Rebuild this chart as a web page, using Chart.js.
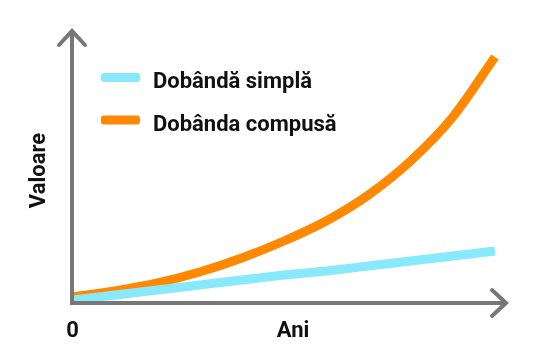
<!DOCTYPE html>
<html>
<head>
<meta charset="utf-8">
<script src="https://cdn.jsdelivr.net/npm/chart.js@4/dist/chart.umd.min.js"></script>
<style>
  html, body { margin: 0; padding: 0; background: #fff; }
  #wrap { width: 550px; height: 350px; }
</style>
</head>
<body>
<div id="wrap"><canvas id="c" width="550" height="350"></canvas></div>
<script>
// date
const ani = [0, 1, 2, 3, 4, 5, 6, 7, 8, 9, 10];
const dobandaSimpla = [3, 8, 13, 18, 23, 28, 32, 37, 42, 47, 52];
const dobandaCompusa = [6, 12, 20, 31, 45, 62, 82, 108, 142, 186, 246];
const etichete = ["Dobândă simplă", "Dobânda compusă"];
const culori = ["#87e9fb", "#ff8800"];

const GRI = "#777777";
const FONT = "bold 22px Roboto";

// axe cu sageti, legenda si titluri
const axePlugin = {
  id: "axe",
  afterDatasetsDraw(chart) {
    const ctx = chart.ctx;
    const x = chart.scales.x, y = chart.scales.y;
    const x0 = x.getPixelForValue(0) - 1;
    const y0 = y.getPixelForValue(0);
    const top = chart.chartArea.top - 2;
    const right = chart.chartArea.right + 11;

    ctx.save();
    ctx.strokeStyle = GRI;
    ctx.lineWidth = 4;
    ctx.lineCap = "butt";
    ctx.beginPath();
    ctx.moveTo(x0, top + 1);
    ctx.lineTo(x0, y0);
    ctx.lineTo(right - 1, y0);
    ctx.stroke();

    ctx.lineCap = "round";
    ctx.lineJoin = "miter";
    ctx.beginPath();
    ctx.moveTo(x0 - 13, top + 14);
    ctx.lineTo(x0, top);
    ctx.lineTo(x0 + 13, top + 14);
    ctx.moveTo(right - 14, y0 - 13);
    ctx.lineTo(right, y0);
    ctx.lineTo(right - 14, y0 + 13);
    ctx.stroke();

    // legenda
    ctx.font = FONT;
    ctx.textBaseline = "alphabetic";
    const randuri = [77.5, 120];
    const baze = [88, 130.5];
    etichete.forEach((t, i) => {
      ctx.fillStyle = culori[i];
      ctx.beginPath();
      ctx.roundRect(101, randuri[i] - 4.5, 39, 9, 3);
      ctx.fill();
      ctx.fillStyle = "#111";
      ctx.textAlign = "left";
      ctx.fillText(t, 153, baze[i]);
    });

    // titluri axe
    ctx.textAlign = "center";
    ctx.fillText("0", 72.5, 336.5);
    ctx.fillText("Ani", 293, 336.5);
    ctx.translate(44.5, 170.5);
    ctx.rotate(-Math.PI / 2);
    ctx.fillText("Valoare", 0, 0);
    ctx.restore();
  }
};

new Chart(document.getElementById("c").getContext("2d"), {
  type: "line",
  data: {
    labels: ani,
    datasets: [
      {
        label: etichete[0],
        data: dobandaSimpla,
        borderColor: culori[0],
        borderWidth: 9,
        pointRadius: 0,
        fill: false,
        clip: false,
      },
      {
        label: etichete[1],
        data: dobandaCompusa,
        borderColor: culori[1],
        borderWidth: 9,
        pointRadius: 0,
        cubicInterpolationMode: "monotone",
        fill: false,
        clip: false,
      },
    ],
  },
  options: {
    responsive: false,
    animation: false,
    layout: {
      padding: { left: 73, right: 55, top: 33, bottom: 47 },
    },
    plugins: {
      legend: { display: false },
      tooltip: { enabled: false },
    },
    scales: {
      x: {
        type: "linear",
        min: 0,
        max: 10,
        display: false,
      },
      y: {
        min: 0,
        max: 270,
        display: false,
      },
    },
  },
  plugins: [axePlugin],
});
</script>
</body>
</html>
